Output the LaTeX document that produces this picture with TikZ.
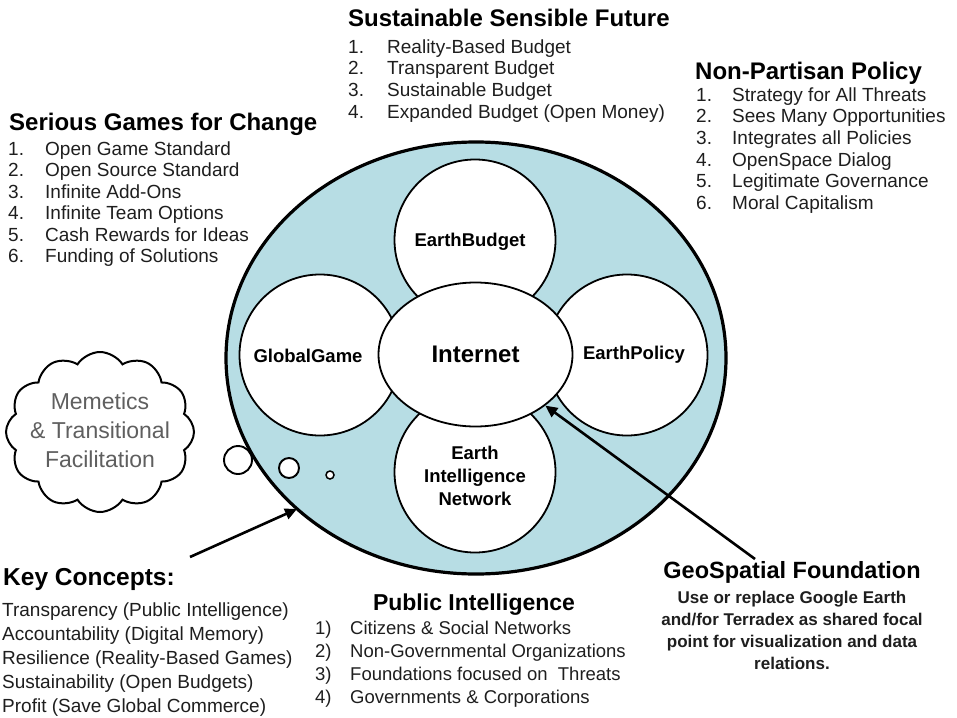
\documentclass[tikz,border=0pt]{standalone}
\usepackage{fontspec}
\setmainfont{Liberation Sans}
\usetikzlibrary{shapes.geometric,shapes.symbols,arrows.meta}
\definecolor{poolblue}{RGB}{183,221,228}
\definecolor{inkgray}{RGB}{30,30,30}
\definecolor{cloudtext}{RGB}{95,95,95}
\begin{document}
\begin{tikzpicture}[x=1pt,y=-1pt,
  heading/.style={font=\fontsize{24}{28}\selectfont\bfseries, anchor=base west, inner sep=0pt},
  item/.style={font=\fontsize{19}{22}\selectfont, text=inkgray, anchor=base west, inner sep=0pt},
  smallitem/.style={item, font=\fontsize{18.5}{22}\selectfont},
  geoline/.style={font=\fontsize{17}{20}\selectfont\bfseries, text=inkgray, anchor=base, inner sep=0pt},
  hub/.style={circle, draw, line width=1.8pt, fill=white, minimum size=161pt, inner sep=0pt},
  tag/.style={font=\fontsize{18.5}{23}\selectfont\bfseries, align=center, inner sep=0pt},
  bubble/.style={circle, draw, line width=1.9pt, fill=white, inner sep=0pt},
  pointer/.style={line width=2.6pt, -{Triangle[length=12pt,width=11pt]}}
]
\path[use as bounding box] (0,0) rectangle (957,717);

% outer world ellipse
\node[ellipse, draw, line width=3.2pt, fill=poolblue, minimum width=500pt, minimum height=432pt, inner sep=0pt] (world) at (476,358) {};

% the four satellite circles
\node[hub] (budget) at (475,240) {};
\node[hub] (game)   at (320,355) {};
\node[hub] (policy) at (627,355) {};
\node[hub] (ein)    at (475,472) {};

% central hub
\node[ellipse, draw, line width=1.8pt, fill=white, minimum width=194pt, minimum height=144pt, inner sep=0pt,
      font=\fontsize{24}{28}\selectfont\bfseries] (internet) at (475.5,354.5) {Internet};

\node[tag] (budget-label) at (470,242) {EarthBudget};
\node[tag] (game-label)   at (308,356) {GlobalGame};
\node[tag] (policy-label) at (634,355) {EarthPolicy};
\node[tag] (ein-label)    at (475,476) {Earth\\Intelligence\\Network};

% thought bubbles and cloud
\node[bubble, minimum size=28pt] (b1) at (238,460) {};
\node[bubble, minimum size=20pt] (b2) at (289,468) {};
\node[bubble, minimum size=8pt, line width=1.5pt] (b3) at (330,475) {};
\node[cloud, draw, line width=2pt, cloud puffs=12, cloud puff arc=115, aspect=1.2,
      minimum width=188pt, minimum height=160pt, inner sep=0pt] (meme) at (100,432) {};
\node[font=\fontsize{23}{29}\selectfont, text=cloudtext, align=center, inner sep=0pt] (meme-text) at (100,430)
      {Memetics\\\& Transitional\\Facilitation};

% pointers
\coordinate (kc-tail) at (190,557);
\coordinate (kc-tip)  at (297,509);
\draw[pointer] (kc-tail) -- (kc-tip);
\coordinate (geo-tail) at (755,559);
\draw[pointer] (geo-tail) -- (internet);

% Sustainable Sensible Future
\node[heading] (ssf) at (348,27) {Sustainable Sensible Future};
\foreach \t [count=\i] in {Reality-Based Budget, Transparent Budget, Sustainable Budget, Expanded Budget (Open Money)} {
  \node[item] (ssf-n\i) at (348,{53+21.7*(\i-1)}) {\i.};
  \node[item] (ssf-t\i) at (387,{53+21.7*(\i-1)}) {\t};
}

% Non-Partisan Policy
\node[heading] (npp) at (695,79) {Non-Partisan Policy};
\foreach \t [count=\i] in {Strategy for All Threats, Sees Many Opportunities, Integrates all Policies, OpenSpace Dialog, Legitimate Governance, Moral Capitalism} {
  \node[item] (npp-n\i) at (696,{101+21.7*(\i-1)}) {\i.};
  \node[item] (npp-t\i) at (732,{101+21.7*(\i-1)}) {\t};
}

% Serious Games for Change
\node[heading] (sgc) at (9,130) {Serious Games for Change};
\foreach \t [count=\i] in {Open Game Standard, Open Source Standard, Infinite Add-Ons, Infinite Team Options, Cash Rewards for Ideas, Funding of Solutions} {
  \node[item] (sgc-n\i) at (8,{155+21.5*(\i-1)}) {\i.};
  \node[item] (sgc-t\i) at (45,{155+21.5*(\i-1)}) {\t};
}

% Key Concepts
\node[heading, font=\fontsize{24.5}{28}\selectfont\bfseries] (kc) at (3,585) {Key Concepts:};
\foreach \t [count=\i] in {Transparency (Public Intelligence), Accountability (Digital Memory), Resilience (Reality-Based Games), Sustainability (Open Budgets), Profit (Save Global Commerce)} {
  \node[item] (kc-t\i) at (2,{616+24*(\i-1)}) {\t};
}

% Public Intelligence
\node[heading, font=\fontsize{23}{28}\selectfont\bfseries, anchor=base] (pi) at (474,610) {Public Intelligence};
\foreach \t [count=\i] in {Citizens \& Social Networks, Non-Governmental Organizations, Foundations focused on\ \ Threats, Governments \& Corporations} {
  \node[smallitem] (pi-n\i) at (315,{634+23*(\i-1)}) {\i)};
  \node[smallitem] (pi-t\i) at (350,{634+23*(\i-1)}) {\t};
}

% GeoSpatial Foundation
\node[heading, font=\fontsize{23.5}{28}\selectfont\bfseries, anchor=base] (geo) at (792,578) {GeoSpatial Foundation};
\foreach \t [count=\i] in {Use or replace Google Earth, and/for Terradex as shared focal, point for visualization and data, relations.} {
  \node[geoline] (geo-t\i) at (792,{603+22.3*(\i-1)}) {\t};
}
\end{tikzpicture}
\end{document}
